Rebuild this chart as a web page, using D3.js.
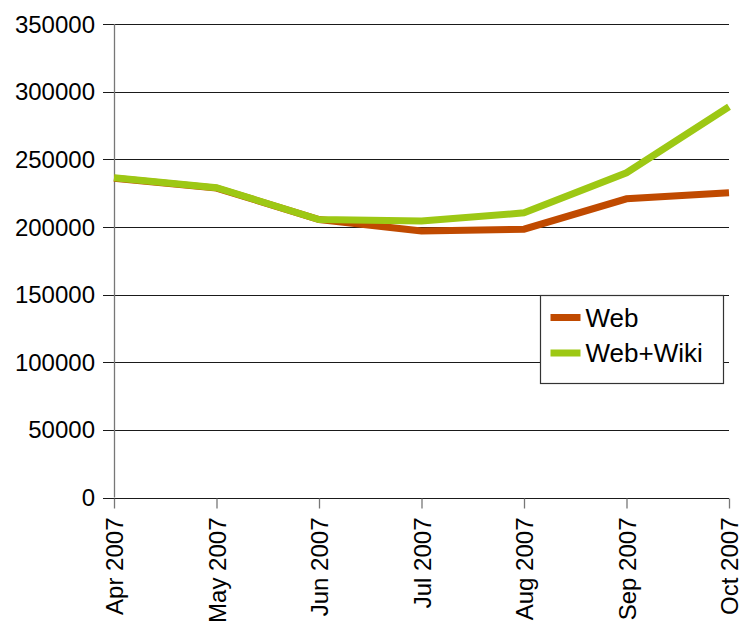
<!DOCTYPE html>
<html>
<head>
<meta charset="utf-8">
<script src="https://cdn.jsdelivr.net/npm/d3@7"></script>
<style>
  body { margin: 0; background: #fff; }
  text { font-family: "Liberation Sans", Arial, sans-serif; }
</style>
</head>
<body>
<div id="chart"></div>
<script>
const width = 739;
const height = 628;
const margin = {left: 114, right: 10, top: 24, bottom: 130};

// months on the x axis
const months = ["Apr 2007", "May 2007", "Jun 2007", "Jul 2007", "Aug 2007", "Sep 2007", "Oct 2007"];
// series values
const webValues = [236000, 228700, 205500, 197000, 198300, 220800, 225200];
const webWikiValues = [236300, 229000, 205500, 204300, 210400, 240000, 288800];
const yTicks = [0, 50000, 100000, 150000, 200000, 250000, 300000, 350000];
const seriesNames = ["Web", "Web+Wiki"];
const seriesColors = ["#c04a00", "#9dc814"];

const svg = d3.select("#chart")
  .append("svg")
  .attr("width", width)
  .attr("height", height);

const x = d3.scalePoint()
  .domain(months)
  .range([margin.left, width - margin.right]);

const y = d3.scaleLinear()
  .domain([0, 350000])
  .range([height - margin.bottom - 0.5, margin.top]);

// horizontal grid lines with tick stubs to the left
svg.append("g")
  .selectAll("line")
  .data(yTicks)
  .enter()
  .append("line")
  .attr("x1", margin.left - 11)
  .attr("x2", width - margin.right)
  .attr("y1", d => Math.round(y(d)) + 0.5)
  .attr("y2", d => Math.round(y(d)) + 0.5)
  .attr("stroke", "#1a1a1a")
  .attr("stroke-width", 1.2);

// y labels
svg.append("g")
  .selectAll("text")
  .data(yTicks)
  .enter()
  .append("text")
  .attr("x", margin.left - 19)
  .attr("y", d => y(d))
  .attr("dy", "0.36em")
  .attr("text-anchor", "end")
  .attr("font-size", "24px")
  .attr("fill", "#000")
  .text(d => d);

// y axis line
svg.append("line")
  .attr("x1", margin.left + 0.5)
  .attr("x2", margin.left + 0.5)
  .attr("y1", y(350000))
  .attr("y2", y(0))
  .attr("stroke", "#777")
  .attr("stroke-width", 1.3);

// x axis with rotated labels
const xAxis = svg.append("g")
  .attr("transform", `translate(0,${Math.round(y(0)) + 0.5})`)
  .call(d3.axisBottom(x).tickSize(10).tickPadding(10));
xAxis.select(".domain").remove();
xAxis.selectAll(".tick line").attr("stroke", "#777").attr("stroke-width", 1.3);
xAxis.selectAll(".tick text")
  .attr("font-size", "24px")
  .attr("font-family", "'Liberation Sans', Arial, sans-serif")
  .attr("fill", "#000")
  .attr("transform", "rotate(-90)")
  .attr("text-anchor", "end")
  .attr("x", -19)
  .attr("y", 0)
  .attr("dy", "0.36em");

// lines
const line = d3.line()
  .x((d, i) => x(months[i]))
  .y(d => y(d));

[webValues, webWikiValues].forEach((vals, k) => {
  svg.append("path")
    .datum(vals)
    .attr("fill", "none")
    .attr("stroke", seriesColors[k])
    .attr("stroke-width", 7)
    .attr("stroke-linejoin", "miter")
    .attr("d", line);
});

// legend
const legend = svg.append("g").attr("transform", "translate(540.5,295.5)");
legend.append("rect")
  .attr("width", 183)
  .attr("height", 88)
  .attr("fill", "#fff")
  .attr("stroke", "#333")
  .attr("stroke-width", 1.2);
seriesNames.forEach((name, k) => {
  const g = legend.append("g").attr("transform", `translate(0,${22 + k * 35.5})`);
  g.append("rect")
    .attr("x", 10)
    .attr("y", -3.5)
    .attr("width", 30)
    .attr("height", 7)
    .attr("fill", seriesColors[k]);
  g.append("text")
    .attr("x", 45)
    .attr("y", 0)
    .attr("dy", "0.36em")
    .attr("font-size", "26px")
    .attr("fill", "#000")
    .text(name);
});
</script>
</body>
</html>
